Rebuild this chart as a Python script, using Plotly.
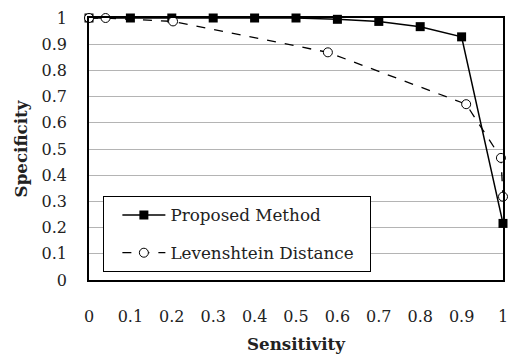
import plotly.graph_objects as go

prop_x = [0, 0.1, 0.2, 0.3, 0.4, 0.5, 0.6, 0.7, 0.8, 0.9, 1.0]
prop_y = [1.0, 1.0, 1.0, 1.0, 1.0, 1.0, 0.995, 0.987, 0.967, 0.928, 0.216]
lev_x = [0, 0.04, 0.203, 0.577, 0.911, 0.995, 1.0]
lev_y = [1.0, 1.0, 0.987, 0.869, 0.671, 0.466, 0.318]
ticks = [0, 0.1, 0.2, 0.3, 0.4, 0.5, 0.6, 0.7, 0.8, 0.9, 1]
tick_text = ["0", "0.1", "0.2", "0.3", "0.4", "0.5", "0.6", "0.7", "0.8", "0.9", "1"]

FONT = "DejaVu Serif"

fig = go.Figure()
fig.add_trace(go.Scatter(
    x=prop_x, y=prop_y, mode="lines+markers", name="Proposed Method",
    line=dict(color="black", width=1.5),
    marker=dict(symbol="square", size=9, color="black"),
    cliponaxis=False, legendgroup="a"))
fig.add_trace(go.Scatter(
    x=lev_x, y=lev_y, mode="lines+markers", name="Levenshtein Distance\u00a0\u00a0",
    line=dict(color="black", width=1.3, dash="dash"),
    marker=dict(symbol="circle", size=9, color="white", line=dict(color="black", width=1)),
    cliponaxis=False, legendgroup="b"))

fig.update_layout(
    width=509, height=354,
    margin=dict(l=89, r=6, t=18, b=74),
    paper_bgcolor="white", plot_bgcolor="white",
    font=dict(family=FONT, size=16, color="#222"),
    legend=dict(x=0.034, y=0.32, xanchor="left", yanchor="top",
                bordercolor="black", borderwidth=1.3, bgcolor="white",
                tracegroupgap=13, traceorder="grouped", itemwidth=43, indentation=13,
                font=dict(family=FONT, size=16.8)),
    xaxis=dict(range=[0, 1], tickvals=ticks, ticktext=tick_text, automargin=False,
               showgrid=False, showline=True, linecolor="black", linewidth=1.5, mirror=True,
               ticks="", ticklabelstandoff=21,
               title=dict(text="<b>Sensitivity</b>", font=dict(family=FONT, size=16.7), standoff=14)),
    yaxis=dict(range=[0, 1], tickvals=ticks, ticktext=tick_text, automargin=False,
               showgrid=True, gridcolor="#b4b4b4", gridwidth=1,
               showline=True, linecolor="black", linewidth=1.5, mirror=True,
               ticks="", ticklabelstandoff=17, zeroline=False,
               title=dict(text="<b>Specificity</b>", font=dict(family=FONT, size=16.7), standoff=10)),
)
fig.write_html("out.html", config={"displayModeBar": False},
               post_script="document.body.style.margin='0';")
